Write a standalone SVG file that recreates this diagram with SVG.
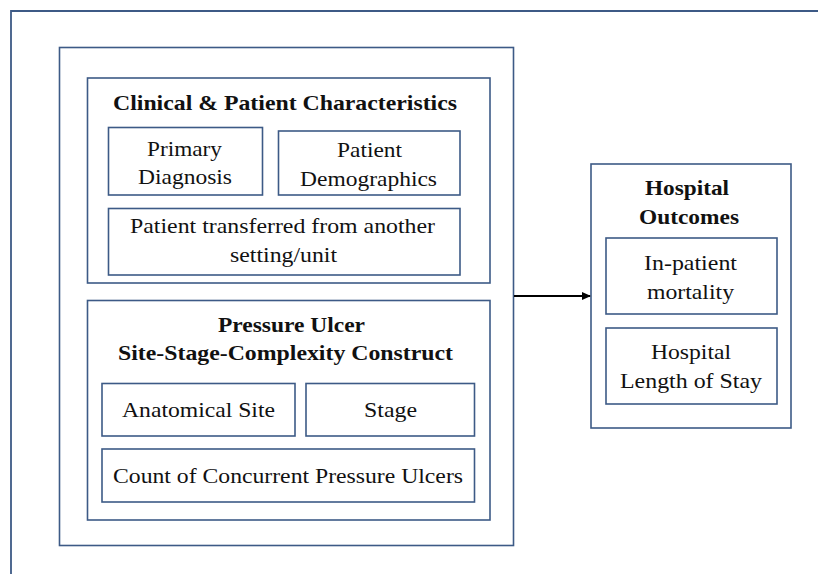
<svg xmlns="http://www.w3.org/2000/svg" width="818" height="574" viewBox="0 0 818 574">
  <style>
    .box { fill: #ffffff; stroke: #3d5a86; stroke-width: 1.6; }
    .frame { fill: none; stroke: #3d5a86; stroke-width: 1.8; }
    .t { font-family: "Liberation Serif", "Times New Roman", serif; font-size: 22px; fill: #111; text-anchor: middle; }
    .b { font-weight: bold; }
    .conn { stroke: #000; stroke-width: 1.8; fill: none; }
  </style>
  <defs>
    <marker id="arrow" markerWidth="9" markerHeight="8" refX="8" refY="4" orient="auto" markerUnits="userSpaceOnUse">
      <path d="M0,0 L9,4 L0,8 Z" fill="#000"/>
    </marker>
  </defs>
  <rect width="818" height="574" fill="#ffffff"/>

  <!-- page frame -->
  <path class="frame" d="M11,574 L11,11 L818,11"/>

  <!-- predictors container -->
  <g id="predictors">
    <rect class="box" x="59.5" y="47.5" width="454" height="498"/>
  </g>

  <g id="clinical">
    <rect class="box" x="87.5" y="78" width="402.5" height="205"/>
    <text class="t b" x="285" y="110" textLength="344" lengthAdjust="spacingAndGlyphs">Clinical &amp; Patient Characteristics</text>
  </g>
  <g id="primary-diagnosis">
    <rect class="box" x="108.5" y="127.5" width="154" height="67.5"/>
    <text class="t" x="184.5" y="156" textLength="75" lengthAdjust="spacingAndGlyphs">Primary</text>
    <text class="t" x="185" y="184" textLength="94" lengthAdjust="spacingAndGlyphs">Diagnosis</text>
  </g>
  <g id="patient-demographics">
    <rect class="box" x="278.5" y="131" width="181.5" height="64"/>
    <text class="t" x="369.5" y="157" textLength="65" lengthAdjust="spacingAndGlyphs">Patient</text>
    <text class="t" x="368.5" y="186" textLength="137" lengthAdjust="spacingAndGlyphs">Demographics</text>
  </g>
  <g id="patient-transferred">
    <rect class="box" x="108.5" y="208.5" width="351.5" height="66.5"/>
    <text class="t" x="282.5" y="233" textLength="305" lengthAdjust="spacingAndGlyphs">Patient transferred from another</text>
    <text class="t" x="283.5" y="262" textLength="107" lengthAdjust="spacingAndGlyphs">setting/unit</text>
  </g>

  <g id="pressure-ulcer">
    <rect class="box" x="87.5" y="300.5" width="402.5" height="219.5"/>
    <text class="t b" x="291.5" y="332" textLength="147" lengthAdjust="spacingAndGlyphs">Pressure Ulcer</text>
    <text class="t b" x="285.5" y="360" textLength="335" lengthAdjust="spacingAndGlyphs">Site-Stage-Complexity Construct</text>
  </g>
  <g id="anatomical-site">
    <rect class="box" x="102" y="383.5" width="193" height="52.5"/>
    <text class="t" x="198.5" y="417" textLength="153" lengthAdjust="spacingAndGlyphs">Anatomical Site</text>
  </g>
  <g id="stage">
    <rect class="box" x="306" y="383.5" width="168.5" height="52.5"/>
    <text class="t" x="390.5" y="417" textLength="53" lengthAdjust="spacingAndGlyphs">Stage</text>
  </g>
  <g id="count-ulcers">
    <rect class="box" x="102" y="449" width="372.5" height="53"/>
    <text class="t" x="288" y="483" textLength="350" lengthAdjust="spacingAndGlyphs">Count of Concurrent Pressure Ulcers</text>
  </g>

  <g id="hospital-outcomes">
    <rect class="box" x="591" y="164" width="200" height="264"/>
    <text class="t b" x="687" y="195" textLength="84" lengthAdjust="spacingAndGlyphs">Hospital</text>
    <text class="t b" x="689" y="224" textLength="100" lengthAdjust="spacingAndGlyphs">Outcomes</text>
  </g>
  <g id="in-patient-mortality">
    <rect class="box" x="606" y="238" width="171" height="76"/>
    <text class="t" x="690.5" y="270" textLength="93" lengthAdjust="spacingAndGlyphs">In-patient</text>
    <text class="t" x="690.5" y="299" textLength="87" lengthAdjust="spacingAndGlyphs">mortality</text>
  </g>
  <g id="length-of-stay">
    <rect class="box" x="606" y="328" width="171" height="76"/>
    <text class="t" x="691" y="359" textLength="80" lengthAdjust="spacingAndGlyphs">Hospital</text>
    <text class="t" x="691" y="388" textLength="142" lengthAdjust="spacingAndGlyphs">Length of Stay</text>
  </g>

  <g id="connectors">
    <line class="conn" x1="514" y1="296" x2="590" y2="296" marker-end="url(#arrow)"/>
  </g>
</svg>
